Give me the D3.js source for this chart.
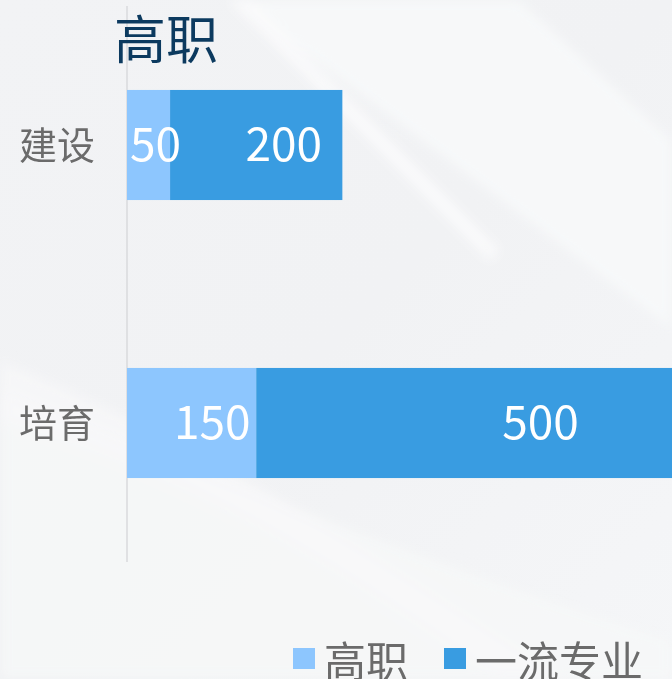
<!DOCTYPE html>
<html>
<head>
<meta charset="utf-8">
<script src="https://cdn.jsdelivr.net/npm/d3@7"></script>
<style>
  html, body { margin: 0; padding: 0; background: #f3f4f6; overflow: hidden; }
  svg { display: block; font-family: "Noto Sans CJK SC", "Noto Sans", sans-serif; }
</style>
</head>
<body>
<svg id="chart"></svg>
<script>
// data
var categories = ["建设", "培育"]
var seriesNames = ["高职", "一流专业"]
var gaozhi = [50, 150]
var yiliu = [200, 500]
var title = "高职"

var colors = ["#8dc6fe", "#399ce1"]

width = 672
height = 679
var svg = d3.select("#chart")
    .attr("width", width)
    .attr("height", height)

// background with faint white swooshes
var defs = svg.append("defs")
var bg = defs.append("linearGradient").attr("id", "bg")
    .attr("x1", 0).attr("y1", 0).attr("x2", 1).attr("y2", 1)
bg.append("stop").attr("offset", 0).attr("stop-color", "#f2f3f5")
bg.append("stop").attr("offset", 0.5).attr("stop-color", "#f1f2f4")
bg.append("stop").attr("offset", 1).attr("stop-color", "#f5f6f8")
defs.append("filter").attr("id", "blur")
    .append("feGaussianBlur").attr("stdDeviation", 6)

svg.append("rect").attr("width", width).attr("height", height).attr("fill", "url(#bg)")
var sw = svg.append("g").attr("filter", "url(#blur)")
sw.append("path").attr("d", "M235,0 L520,0 L672,140 L672,330 Z").attr("fill", "#f7f8fa").attr("opacity", 0.9)
sw.append("path").attr("d", "M228,0 L250,0 L500,250 L490,262 Z").attr("fill", "#fbfbfc").attr("opacity", 0.8)
sw.append("path").attr("d", "M0,390 C200,470 420,560 672,640 L672,679 L0,679 Z").attr("fill", "#f6f7f8").attr("opacity", 0.8)
sw.append("path").attr("d", "M0,360 C150,420 300,500 560,679 L500,679 C300,540 150,460 0,420 Z").attr("fill", "#f8f8f9").attr("opacity", 0.7)

// scales
var x = d3.scaleLinear().domain([0, 700]).range([127, 730])
var y = d3.scaleBand().domain(categories).range([6, 562])
    .paddingInner(0.604).paddingOuter(0.302)

var rows = categories.map((c, i) => ({cat: c, "高职": gaozhi[i], "一流专业": yiliu[i]}))
var stack = d3.stack().keys(seriesNames)(rows)

// axis line
svg.append("line")
    .attr("x1", x(0)).attr("x2", x(0))
    .attr("y1", y.range()[0]).attr("y2", y.range()[1])
    .attr("stroke", "#d9dadc").attr("stroke-width", 1.5)

var layers = svg.selectAll("g.layer")
    .data(stack)
    .enter()
    .append("g")
    .attr("class", "layer")
    .attr("fill", (d, i) => colors[i])

layers.selectAll("rect")
    .data(d => d)
    .enter()
    .append("rect")
    .attr("x", d => x(d[0]))
    .attr("y", d => y(d.data.cat))
    .attr("width", d => x(d[1]) - x(d[0]))
    .attr("height", y.bandwidth())

// value labels drawn on top of every bar
var segs = stack.flatMap(layer => layer.map(d => d))
svg.append("g").selectAll("text")
    .data(segs)
    .enter()
    .append("text")
    .attr("x", d => x(d[0]) + (x(d[1]) - x(d[0])) * 0.66)
    .attr("y", d => y(d.data.cat) + y.bandwidth() / 2)
    .attr("dy", "0.35em")
    .attr("text-anchor", "middle")
    .attr("fill", "#ffffff")
    .attr("font-size", 46)
    .text(d => d[1] - d[0])

// category labels
svg.selectAll("text.cat")
    .data(categories)
    .enter()
    .append("text")
    .attr("class", "cat")
    .attr("x", x(0) - 32)
    .attr("y", d => y(d) + y.bandwidth() / 2)
    .attr("dy", "0.36em")
    .attr("text-anchor", "end")
    .attr("fill", "#6b6b6b")
    .attr("font-size", 38)
    .text(d => d)

// title
svg.append("text")
    .attr("x", 114)
    .attr("y", 59)
    .attr("fill", "#0c3a5f")
    .attr("font-size", 52)
    .text(title)

// legend
var legend = svg.append("g").attr("transform", "translate(293,0)")
var lx = [0, 151]
seriesNames.forEach((s, i) => {
    legend.append("rect")
        .attr("x", lx[i]).attr("y", 648)
        .attr("width", 22).attr("height", 21)
        .attr("fill", colors[i])
    legend.append("text")
        .attr("x", lx[i] + 31).attr("y", 677)
        .attr("fill", "#6b6b6b")
        .attr("font-size", 42)
        .text(s)
})
</script>
</body>
</html>
